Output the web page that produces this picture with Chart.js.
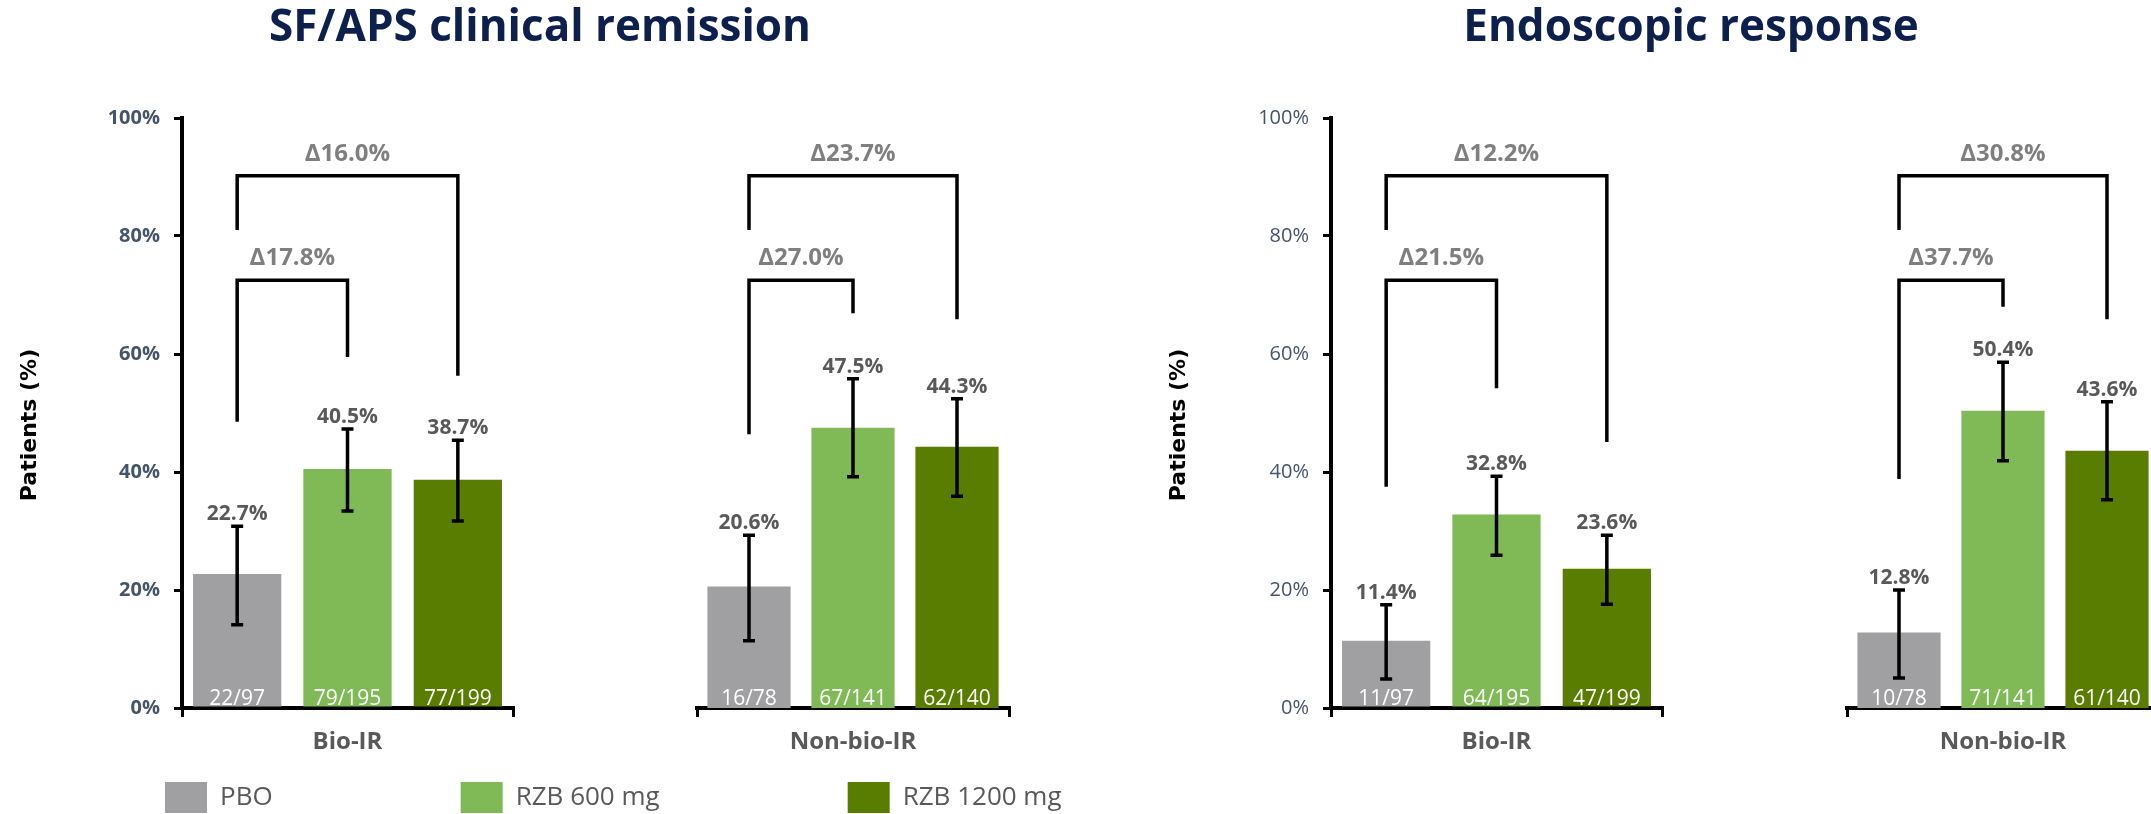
<!DOCTYPE html>
<html>
<head>
<meta charset="utf-8">
<title>SF/APS clinical remission and endoscopic response</title>
<script src="https://cdn.jsdelivr.net/npm/chart.js@4.4.1/dist/chart.umd.min.js"></script>
<style>
  html, body { margin: 0; width: 2151px; height: 814px; overflow: hidden; background: #fff; }
  body { position: relative; }
  canvas { position: absolute; top: 0; }
</style>
</head>
<body>
<canvas id="legendChart" width="1320" height="823" style="left:-23px"></canvas>
<canvas id="frameLeft" width="1080" height="814" style="left:0px"></canvas>
<canvas id="frameRight" width="920" height="814" style="left:1231px"></canvas>
<canvas id="remBio" width="517" height="814" style="left:0px"></canvas>
<canvas id="remNon" width="320" height="814" style="left:693px"></canvas>
<canvas id="endBio" width="517" height="814" style="left:1149px"></canvas>
<canvas id="endNon" width="320" height="814" style="left:1843px"></canvas>
<script>
// --- data
const seriesNames = ['PBO', 'RZB 600 mg', 'RZB 1200 mg'];
const groupNames = ['Bio-IR', 'Non-bio-IR'];
const panelTitles = ['SF/APS clinical remission', 'Endoscopic response'];
const yTickValues = [0, 20, 40, 60, 80, 100];
const axisTitle = 'Patients (%)';

// SF/APS clinical remission
const remBioValues = [22.7, 40.5, 38.7];
const remBioLow = [14.1, 33.4, 31.7];
const remBioHigh = [30.8, 47.3, 45.4];
const remBioCounts = ['22/97', '79/195', '77/199'];
const remBioDeltas = ['Δ17.8%', 'Δ16.0%'];
const remNonValues = [20.6, 47.5, 44.3];
const remNonLow = [11.4, 39.2, 35.9];
const remNonHigh = [29.3, 55.8, 52.4];
const remNonCounts = ['16/78', '67/141', '62/140'];
const remNonDeltas = ['Δ27.0%', 'Δ23.7%'];

// Endoscopic response
const endBioValues = [11.4, 32.8, 23.6];
const endBioLow = [4.9, 25.9, 17.6];
const endBioHigh = [17.5, 39.3, 29.3];
const endBioCounts = ['11/97', '64/195', '47/199'];
const endBioDeltas = ['Δ21.5%', 'Δ12.2%'];
const endNonValues = [12.8, 50.4, 43.6];
const endNonLow = [5.1, 41.9, 35.3];
const endNonHigh = [20.0, 58.6, 51.9];
const endNonCounts = ['10/78', '71/141', '61/140'];
const endNonDeltas = ['Δ37.7%', 'Δ30.8%'];

// comparison brackets, in % of the value axis
const bracketTops = [72.5, 90.2];           // inner, outer
// leg ends: inner left, inner right, outer left, outer right
const remBioLegs = [48.5, 59.5, 81.0, 56.3];
const remNonLegs = [46.4, 66.9, 81.0, 65.9];
const endBioLegs = [37.5, 54.2, 81.0, 45.1];
const endNonLegs = [38.8, 68.0, 81.0, 65.9];

// --- styles
const seriesColors = ['#a0a0a2', '#7fba56', '#597d00'];
const labelGrey = '#595959';

Chart.defaults.font.family = "'Open Sans', sans-serif";
Chart.defaults.animation = false;

// error bars, value labels, n/N labels, delta brackets and the axis title
function groupMarks(group, showAxis) {
    return {
        id: 'groupMarks',
        afterDatasetsDraw(chart) {
            const c = chart.ctx;
            const y = chart.scales.y;
            const xs = seriesNames.map((n, i) => chart.getDatasetMeta(i).data[0].x);
            const base = y.getPixelForValue(0);
            c.save();
            c.strokeStyle = '#000';
            c.lineWidth = 3.5;
            c.textAlign = 'center';
            c.textBaseline = 'alphabetic';

            xs.forEach((x, i) => {
                const top = y.getPixelForValue(group.high[i]);
                const bot = y.getPixelForValue(group.low[i]);
                c.beginPath();
                c.moveTo(x, top); c.lineTo(x, bot);
                c.moveTo(x - 6, top); c.lineTo(x + 6, top);
                c.moveTo(x - 6, bot); c.lineTo(x + 6, bot);
                c.stroke();

                c.fillStyle = labelGrey;
                c.font = "bold 21px 'Open Sans'";
                c.fillText(group.values[i].toFixed(1) + '%', x, top - 6);

                c.fillStyle = '#fff';
                c.font = "21px 'Open Sans'";
                c.fillText(group.counts[i], x, base - 3);
            });

            // brackets: PBO vs 600 mg (inner), PBO vs 1200 mg (outer)
            const pairs = [[0, 1], [0, 2]];
            c.lineJoin = 'miter';
            pairs.forEach((p, k) => {
                const x1 = xs[p[0]], x2 = xs[p[1]];
                const top = y.getPixelForValue(bracketTops[k]);
                c.beginPath();
                c.moveTo(x1, y.getPixelForValue(group.legs[k * 2]));
                c.lineTo(x1, top);
                c.lineTo(x2, top);
                c.lineTo(x2, y.getPixelForValue(group.legs[k * 2 + 1]));
                c.stroke();

                c.fillStyle = '#7f7f7f';
                c.font = "bold 24px 'Open Sans'";
                c.fillText(group.deltas[k], (x1 + x2) / 2, top - 15);
            });

            // rotated axis title, left of the tick labels
            if (showAxis) {
                c.translate(y.left + 30, (y.top + y.bottom) / 2 + 12);
                c.rotate(-Math.PI / 2);
                c.fillStyle = '#000';
                c.font = "bold 22px 'DejaVu Sans'";
                c.textBaseline = 'middle';
                c.fillText(axisTitle, 0, 0);
            }
            c.restore();
        }
    };
}

// one group of three bars with its own axis segment
function groupChart(canvasId, group, showAxis, tickWeight) {
    const ctx = document.getElementById(canvasId).getContext('2d');
    return new Chart(ctx, {
        type: 'bar',
        data: {
            labels: [group.name],
            datasets: seriesNames.map((name, i) => ({
                label: name,
                data: [group.values[i]],
                backgroundColor: seriesColors[i],
                barPercentage: 0.8,
                categoryPercentage: 1
            }))
        },
        options: {
            responsive: false,
            layout: { padding: { top: 118, left: showAxis ? 0 : 4, right: 4, bottom: 0 } },
            plugins: { legend: { display: false }, tooltip: { enabled: false } },
            scales: {
                x: {
                    grid: { drawOnChartArea: false, color: '#000', lineWidth: 3, tickLength: 9 },
                    border: { color: '#000', width: 4 },
                    ticks: { color: labelGrey, font: { size: 24, weight: 'bold' }, padding: 11 },
                    afterFit: s => { s.height = 106; }
                },
                y: {
                    display: showAxis,
                    min: 0,
                    max: 100,
                    afterBuildTicks: s => { s.ticks = yTickValues.map(v => ({ value: v })); },
                    ticks: {
                        callback: v => v + '%',
                        color: '#44546a',
                        font: { size: 20, weight: tickWeight },
                        padding: 14
                    },
                    grid: { drawOnChartArea: false, color: '#000', lineWidth: 3, tickLength: 8 },
                    border: { color: '#000', width: 4 },
                    // keep the value axis the same width in both panels
                    afterFit: s => { s.width = showAxis ? 182 : 0; }
                }
            }
        },
        plugins: [groupMarks(group, showAxis)]
    });
}

// panel titles and the shared legend
function frameChart(canvasId, title, withLegend) {
    const ctx = document.getElementById(canvasId).getContext('2d');
    return new Chart(ctx, {
        type: 'bar',
        data: {
            labels: [],
            datasets: seriesNames.map((name, i) => ({ label: name, data: [], backgroundColor: seriesColors[i] }))
        },
        options: {
            responsive: false,
            scales: { x: { display: false }, y: { display: false } },
            plugins: {
                tooltip: { enabled: false },
                title: {
                    display: !!title,
                    text: title,
                    color: '#0c1f4d',
                    font: { size: 44, weight: 'bold' },
                    padding: { top: 2, bottom: 0 }
                },
                legend: {
                    display: withLegend,
                    position: 'bottom',
                    align: 'start',
                    labels: {
                        boxWidth: 42,
                        boxHeight: 31,
                        padding: 188,
                        color: labelGrey,
                        font: { size: 26 }
                    }
                }
            }
        }
    });
}

frameChart('legendChart', '', true);
frameChart('frameLeft', panelTitles[0], false);
frameChart('frameRight', panelTitles[1], false);

groupChart('remBio', { name: groupNames[0], values: remBioValues, low: remBioLow, high: remBioHigh,
    counts: remBioCounts, deltas: remBioDeltas, legs: remBioLegs }, true, 'bold');
groupChart('remNon', { name: groupNames[1], values: remNonValues, low: remNonLow, high: remNonHigh,
    counts: remNonCounts, deltas: remNonDeltas, legs: remNonLegs }, false, 'bold');
groupChart('endBio', { name: groupNames[0], values: endBioValues, low: endBioLow, high: endBioHigh,
    counts: endBioCounts, deltas: endBioDeltas, legs: endBioLegs }, true, 'normal');
groupChart('endNon', { name: groupNames[1], values: endNonValues, low: endNonLow, high: endNonHigh,
    counts: endNonCounts, deltas: endNonDeltas, legs: endNonLegs }, false, 'normal');
</script>
</body>
</html>
